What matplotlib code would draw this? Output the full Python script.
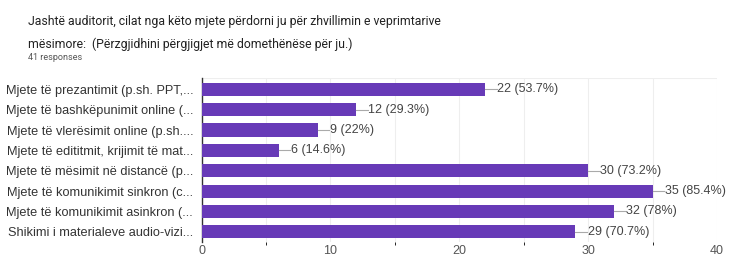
import matplotlib
matplotlib.use("Agg")
import matplotlib.pyplot as plt
from matplotlib.ticker import MultipleLocator

categories = [
    "Mjete të prezantimit (p.sh. PPT,...",
    "Mjete të bashkëpunimit online (...",
    "Mjete të vlerësimit online (p.sh....",
    "Mjete të edititmit, krijimit të mat...",
    "Mjete të mësimit në distancë (p...",
    "Mjete të komunikimit sinkron (c...",
    "Mjete të komunikimit asinkron (...",
    "Shikimi i materialeve audio-vizi...",
]
counts = [22, 12, 9, 6, 30, 35, 32, 29]
percents = ["53.7%", "29.3%", "22%", "14.6%", "73.2%", "85.4%", "78%", "70.7%"]
xticks = [0, 10, 20, 30, 40]

plt.rcParams['font.family'] = ['Liberation Sans', 'DejaVu Sans']

fig = plt.figure(figsize=(7.31, 2.56), dpi=100)
ax = fig.add_axes([0.2757, 0.0547, 0.981 - 0.2757, 0.695 - 0.0547])

ypos = list(range(len(categories)))
ax.barh(ypos, counts, height=0.64, color="#673ab7", zorder=3)
for y, c, p in zip(ypos, counts, percents):
    ax.plot([c, c + 0.9], [y, y], color="#aaaaaa", lw=0.8, zorder=3)
    ax.text(c + 0.95, y, f"{c} ({p})", va="center", ha="left",
            fontsize=9, color="#444444", zorder=4)

ax.set_xlim(0, 40)
ax.set_ylim(7.5, -0.55)
ax.set_yticks(ypos)
ax.set_yticklabels(categories, fontsize=9.2, color="#333333")
ax.set_xticks(xticks)
ax.set_xticklabels([str(t) for t in xticks], fontsize=9, color="#555555")
ax.xaxis.set_minor_locator(MultipleLocator(5))
ax.tick_params(axis="y", length=0, pad=6)
ax.tick_params(axis="x", length=0, pad=2)
ax.grid(axis="x", which="both", color="#eeeeee", lw=0.8, zorder=0)
for s in ["top", "right", "bottom"]:
    ax.spines[s].set_visible(False)
ax.spines["left"].set_color("#333333")
ax.spines["left"].set_linewidth(1.0)
ax.axhline(-0.55, color="#eeeeee", lw=0.8, zorder=0)

title_font = ['Roboto', 'DejaVu Sans']
fig.text(28 / 731, 1 - 22 / 256,
         "Jashtë auditorit, cilat nga këto mjete përdorni ju për zhvillimin e veprimtarive",
         fontsize=8.8, color="#222222", va="center", ha="left", family=title_font)
fig.text(28 / 731, 1 - 44 / 256,
         "mësimore:  (Përzgjidhini përgjigjet më domethënëse për ju.)",
         fontsize=8.8, color="#222222", va="center", ha="left", family=title_font)
fig.text(28 / 731, 1 - 57 / 256, "41 responses",
         fontsize=6.5, color="#555555", va="center", ha="left", family=title_font)

fig.savefig("out.png", dpi=100, facecolor="white")
